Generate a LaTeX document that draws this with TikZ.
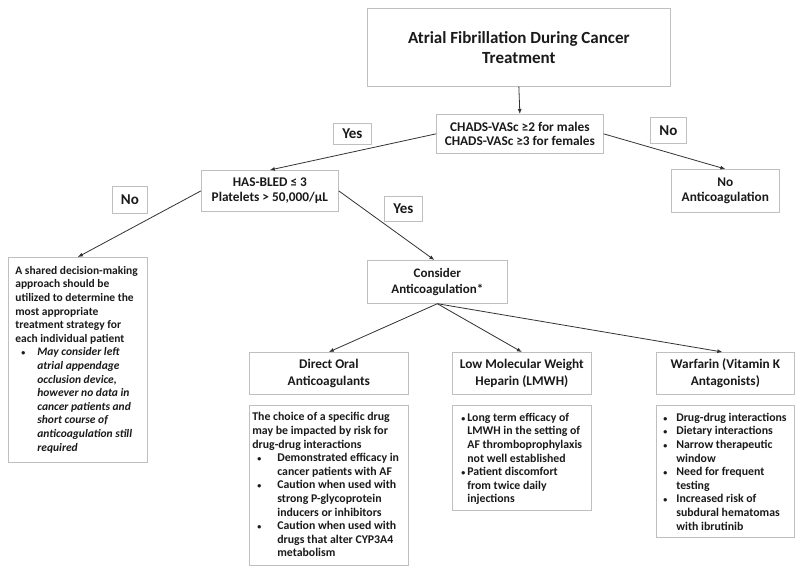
\documentclass[tikz,border=0pt]{standalone}
\usepackage{fontspec}
\setmainfont{Carlito}
\usetikzlibrary{arrows.meta}
\definecolor{boxgray}{HTML}{BFBFBF}
\definecolor{linegray}{HTML}{333333}
\definecolor{txt}{HTML}{1A1A1A}
\newcommand\bitem[3]{\par\hangindent=#2\hangafter=1\noindent\makebox[#2][l]{\hspace*{#1}{\fontsize{8}{8}\selectfont •}}{\def\\{\unskip\nobreak\hfil\break}#3}}
\newcommand\dtext[4]{\parbox[c][#2][t]{#1}{\raggedright\fontsize{#3}{13.6}\selectfont #4}}
\begin{document}
\begin{tikzpicture}[x=1pt,y=-1pt,
  bx/.style={draw=boxgray, line width=0.7pt, anchor=north west, inner sep=0pt, align=center, text=txt, font=\bfseries},
  lab/.style={bx, font=\bfseries\fontsize{15}{17}\selectfont},
  hdr/.style={bx, minimum height=42pt, font=\bfseries\fontsize{13.3}{17}\selectfont},
  dbx/.style={bx, inner ysep=0pt, align=left},
  arr/.style={-{Latex[length=5pt,width=4pt]}, draw=linegray, line width=0.8pt}]
\useasboundingbox (0,0) rectangle (800,568);
\fill[white] (0,0) rectangle (800,568);
% title
\node[bx, minimum width=303pt, minimum height=78pt, font=\bfseries\fontsize{17}{20}\selectfont] (title) at (367,8) {Atrial Fibrillation During Cancer\\Treatment};
\node[bx, minimum width=167pt, minimum height=39pt, font=\bfseries\fontsize{13.3}{14}\selectfont] (chads) at (436,114) {CHADS-VASc ≥2 for males\\CHADS-VASc ≥3 for females};
\node[lab, minimum width=38pt, minimum height=21pt] (yes1) at (333,123) {Yes};
\node[lab, minimum width=36pt, minimum height=26pt] (no1) at (650,117) {No};
\node[bx, minimum width=137pt, minimum height=41pt, font=\bfseries\fontsize{13.3}{15}\selectfont] (has) at (201,170) {HAS-BLED ≤ 3\\Platelets > 50,000/µL};
\node[bx, minimum width=108pt, minimum height=43pt, font=\bfseries\fontsize{13.3}{15}\selectfont] (noac) at (671,169) {No\\Anticoagulation};
\node[lab, minimum width=35pt, minimum height=27pt] (no2) at (112,186) {No};
\node[lab, minimum width=38pt, minimum height=25pt] (yes2) at (384,196) {Yes};
\node[bx, minimum width=140pt, minimum height=43pt, font=\bfseries\fontsize{13}{16}\selectfont] (cons) at (367,260) {Consider\\Anticoagulation*};
% left box
\node[dbx, inner xsep=7pt] (shared) at (8,257) {\dtext{125pt}{205pt}{11.5}{%
\rule{0pt}{17pt}A shared decision-making\\approach should be\\utilized to determine the\\most appropriate\\treatment strategy for\\each individual patient
\bitem{6pt}{22pt}{\itshape May consider left\\atrial appendage\\occlusion device,\\however no data in\\cancer patients and\\short course of\\anticoagulation still\\required}}};
% drug headers
\node[hdr, minimum width=159pt] (doa) at (249,352) {Direct Oral\\Anticoagulants};
\node[hdr, minimum width=139pt] (lmwh) at (452,352) {Low Molecular Weight\\Heparin (LMWH)};
\node[hdr, minimum width=138pt] (war) at (656,352) {Warfarin (Vitamin K\\Antagonists)};
% details
\node[dbx, inner xsep=3pt] (doad) at (249,405) {\dtext{153pt}{160pt}{11.8}{%
\rule{0pt}{15.5pt}The choice of a specific drug\\may be impacted by risk for\\drug-drug interactions
\bitem{5pt}{25pt}{Demonstrated efficacy in\\cancer patients with AF}
\bitem{5pt}{25pt}{Caution when used with\\strong P-glycoprotein\\inducers or inhibitors}
\bitem{5pt}{25pt}{Caution when used with\\drugs that alter CYP3A4\\metabolism}}};
\node[dbx, inner xsep=3pt] (lmwhd) at (452,405) {\dtext{133pt}{105pt}{11.8}{%
\bitem{6pt}{12pt}{\rule{0pt}{16pt}Long term efficacy of\\LMWH in the setting of\\AF thromboprophylaxis\\not well established}
\bitem{6pt}{12pt}{Patient discomfort\\from twice daily\\injections}}};
\node[dbx, inner xsep=3pt] (ward) at (656,405) {\dtext{132pt}{132pt}{11.8}{%
\bitem{4pt}{17pt}{\rule{0pt}{16pt}Drug-drug interactions}
\bitem{4pt}{17pt}{Dietary interactions}
\bitem{4pt}{17pt}{Narrow therapeutic\\window}
\bitem{4pt}{17pt}{Need for frequent\\testing}
\bitem{4pt}{17pt}{Increased risk of\\subdural hematomas\\with ibrutinib}}};
% connectors
\draw[arr] (title.south) -- (chads.north);
\draw[arr] (chads.west) -- (has.north);
\draw[arr] (chads.east) -- (noac.north);
\draw[arr] (has.west) -- (shared.north);
\draw[arr] (has.east) -- ([xshift=-3pt]cons.north);
\draw[arr] (cons.south) -- (doa.north);
\draw[arr] (cons.south) -- (lmwh.north);
\draw[arr] (cons.south) -- ([xshift=-3pt]war.north);
\end{tikzpicture}
\end{document}
